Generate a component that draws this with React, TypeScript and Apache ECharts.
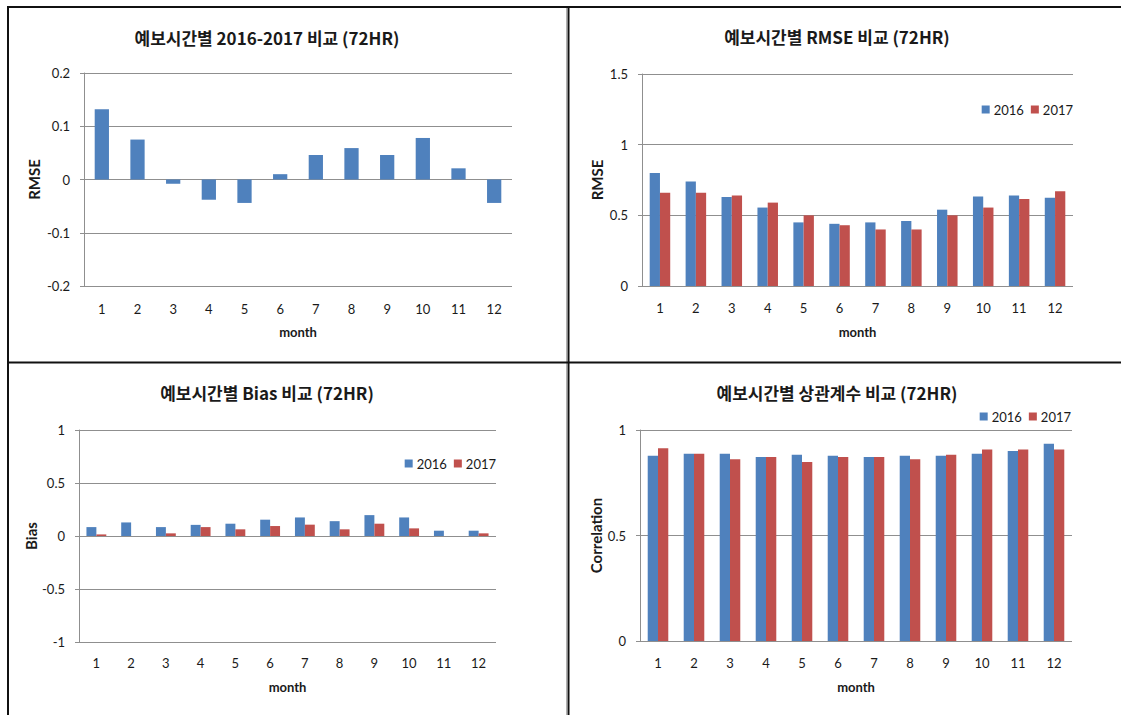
import React, { useEffect, useRef } from "react";
import * as echarts from "echarts";

const months = ["1", "2", "3", "4", "5", "6", "7", "8", "9", "10", "11", "12"];
const seriesNames = ["2016", "2017"];

const rmseDiff = [0.132, 0.075, -0.008, -0.038, -0.044, 0.01, 0.046, 0.059, 0.046, 0.078, 0.021, -0.044];

const rmse2016 = [0.8, 0.74, 0.63, 0.555, 0.45, 0.44, 0.45, 0.46, 0.54, 0.633, 0.64, 0.625];
const rmse2017 = [0.66, 0.66, 0.64, 0.59, 0.5, 0.43, 0.4, 0.4, 0.5, 0.555, 0.615, 0.67];

const bias2016 = [0.084, 0.128, 0.084, 0.105, 0.116, 0.154, 0.175, 0.14, 0.197, 0.175, 0.05, 0.05];
const bias2017 = [0.015, 0, 0.025, 0.084, 0.063, 0.094, 0.107, 0.063, 0.116, 0.072, 0, 0.025];

const corr2016 = [0.878, 0.888, 0.888, 0.872, 0.883, 0.878, 0.872, 0.878, 0.878, 0.888, 0.9, 0.935];
const corr2017 = [0.913, 0.888, 0.861, 0.872, 0.848, 0.872, 0.872, 0.861, 0.883, 0.907, 0.907, 0.907];

const titles = [
  "예보시간별 2016-2017 비교 (72HR)",
  "예보시간별 RMSE 비교 (72HR)",
  "예보시간별 Bias 비교 (72HR)",
  "예보시간별 상관계수 비교 (72HR)",
];
const yNames = ["RMSE", "RMSE", "Bias", "Correlation"];
const xName = "month";

const BLUE = "#4F81BD";
const RED = "#C0504D";
const GRID_COLOR = "#8f8f8f";
const TEXT = "#1a1a1a";
const LATIN = "Lato, 'Noto Sans', sans-serif";
const TITLE_FONT = "'Noto Sans CJK KR', 'Noto Sans', sans-serif";

export default function App() {
  const ref = useRef<HTMLDivElement>(null);

  useEffect(() => {
    if (!ref.current) return;
    const chart = echarts.init(ref.current, undefined, { renderer: "svg" });

    const grids = [
      { left: 84, top: 73, width: 428, height: 213 },
      { left: 642, top: 74, width: 431, height: 212 },
      { left: 79, top: 430, width: 417, height: 212 },
      { left: 640, top: 430, width: 432, height: 211 },
    ];
    const yRanges = [
      { min: -0.2, max: 0.2, interval: 0.1 },
      { min: 0, max: 1.5, interval: 0.5 },
      { min: -1, max: 1, interval: 0.5 },
      { min: 0, max: 1, interval: 0.5 },
    ];
    const yNameGaps = [43, 38, 41, 35];
    const xLabelMargins = [16, 15, 14, 15];
    const xNameGaps = [39, 39, 38, 39];

    const titleCenters = [
      { x: 267, top: 29 },
      { x: 837, top: 28 },
      { x: 267, top: 384 },
      { x: 837, top: 384 },
    ];

    const option: any = {
      animation: false,
      backgroundColor: "#ffffff",
      title: titles.map((t, i) => ({
        text: t,
        left: titleCenters[i].x,
        top: titleCenters[i].top,
        textAlign: "center",
        padding: 0,
        textStyle: {
          fontFamily: TITLE_FONT,
          fontSize: 17,
          fontWeight: "bold",
          color: TEXT,
        },
      })),
      legend: [
        { right: 48, top: 103 },
        { right: 625, top: 457 },
        { right: 50, top: 410 },
      ].map((p) => ({
        data: seriesNames,
        right: p.right,
        top: p.top,
        orient: "horizontal",
        icon: "rect",
        itemWidth: 8,
        itemHeight: 8,
        itemGap: 7,
        padding: 0,
        selectedMode: false,
        textStyle: { fontFamily: LATIN, fontSize: 13, color: TEXT, padding: [0, 0, 0, -1] },
      })),
      grid: grids.map((g) => ({ ...g, containLabel: false })),
      xAxis: grids.map((_, i) => ({
        type: "category",
        gridIndex: i,
        data: months,
        name: xName,
        nameLocation: "middle",
        nameGap: xNameGaps[i],
        nameTextStyle: { fontFamily: LATIN, fontSize: 13, fontWeight: "bold", color: TEXT },
        axisLine: { show: false, onZero: false },
        axisTick: { show: false },
        axisLabel: { fontFamily: LATIN, fontSize: 13, color: TEXT, margin: xLabelMargins[i] },
        splitLine: { show: false },
      })),
      yAxis: grids.map((_, i) => ({
        type: "value",
        gridIndex: i,
        min: yRanges[i].min,
        max: yRanges[i].max,
        interval: yRanges[i].interval,
        name: yNames[i],
        nameLocation: "middle",
        nameRotate: 90,
        nameGap: yNameGaps[i],
        nameTextStyle: { fontFamily: LATIN, fontSize: 15, fontWeight: "bold", color: TEXT },
        axisLine: { show: true, lineStyle: { color: GRID_COLOR, width: 1 } },
        axisTick: { show: true, length: 4, lineStyle: { color: GRID_COLOR, width: 1 } },
        axisLabel: { fontFamily: LATIN, fontSize: 13, color: TEXT, margin: 14 },
        splitLine: { show: true, lineStyle: { color: GRID_COLOR, width: 1 } },
      })),
      series: [
        {
          name: "2016-2017",
          type: "bar",
          xAxisIndex: 0,
          yAxisIndex: 0,
          data: rmseDiff,
          barCategoryGap: "60%",
          itemStyle: { color: BLUE },
        },
        {
          name: seriesNames[0],
          type: "bar",
          xAxisIndex: 1,
          yAxisIndex: 1,
          data: rmse2016,
          barGap: "0%",
          barCategoryGap: "42.86%",
          itemStyle: { color: BLUE },
        },
        {
          name: seriesNames[1],
          type: "bar",
          xAxisIndex: 1,
          yAxisIndex: 1,
          data: rmse2017,
          barGap: "0%",
          barCategoryGap: "42.86%",
          itemStyle: { color: RED },
        },
        {
          name: seriesNames[0],
          type: "bar",
          xAxisIndex: 2,
          yAxisIndex: 2,
          data: bias2016,
          barGap: "0%",
          barCategoryGap: "42.86%",
          itemStyle: { color: BLUE },
        },
        {
          name: seriesNames[1],
          type: "bar",
          xAxisIndex: 2,
          yAxisIndex: 2,
          data: bias2017,
          barGap: "0%",
          barCategoryGap: "42.86%",
          itemStyle: { color: RED },
        },
        {
          name: seriesNames[0],
          type: "bar",
          xAxisIndex: 3,
          yAxisIndex: 3,
          data: corr2016,
          barGap: "0%",
          barCategoryGap: "42.86%",
          itemStyle: { color: BLUE },
        },
        {
          name: seriesNames[1],
          type: "bar",
          xAxisIndex: 3,
          yAxisIndex: 3,
          data: corr2017,
          barGap: "0%",
          barCategoryGap: "42.86%",
          itemStyle: { color: RED },
        },
      ],
      graphic: [
        { type: "line", z: 100, shape: { x1: 7, y1: 7, x2: 1121, y2: 7 }, style: { stroke: "#111", lineWidth: 2 } },
        { type: "line", z: 100, shape: { x1: 8, y1: 6, x2: 8, y2: 715 }, style: { stroke: "#111", lineWidth: 2 } },
        { type: "line", z: 99, shape: { x1: 566.5, y1: 8, x2: 566.5, y2: 715 }, style: { stroke: "#b0b0b0", lineWidth: 1 } },
        { type: "line", z: 100, shape: { x1: 568.5, y1: 6, x2: 568.5, y2: 715 }, style: { stroke: "#111", lineWidth: 2 } },
        { type: "line", z: 100, shape: { x1: 8, y1: 362.5, x2: 1121, y2: 362.5 }, style: { stroke: "#111", lineWidth: 2 } },
      ],
    };

    chart.setOption(option);
    return () => {
      chart.dispose();
    };
  }, []);

  return (
    <div
      ref={ref}
      style={{ position: "absolute", left: 0, top: 0, width: 1121, height: 715, background: "#fff" }}
    />
  );
}
